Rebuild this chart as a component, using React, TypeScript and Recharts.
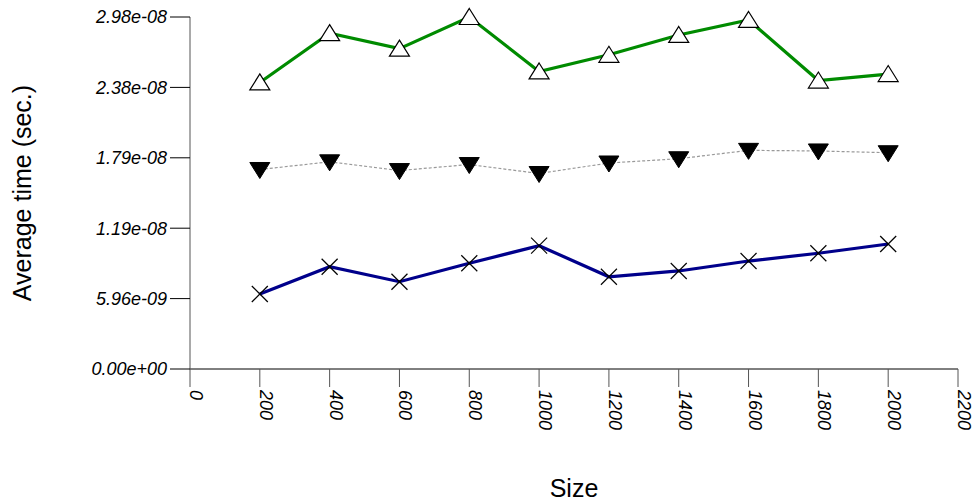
import React from "react";
import { LineChart, Line, XAxis, YAxis, Label } from "recharts";

const sizes = [200, 400, 600, 800, 1000, 1200, 1400, 1600, 1800, 2000];
const seriesGreen = [2.426e-8, 2.843e-8, 2.712e-8, 2.98e-8, 2.519e-8, 2.66e-8, 2.828e-8, 2.955e-8, 2.442e-8, 2.497e-8];
const seriesBlack = [1.689e-8, 1.754e-8, 1.68e-8, 1.731e-8, 1.655e-8, 1.744e-8, 1.78e-8, 1.851e-8, 1.846e-8, 1.831e-8];
const seriesBlue = [6.35e-9, 8.66e-9, 7.39e-9, 8.95e-9, 1.044e-8, 7.81e-9, 8.3e-9, 9.14e-9, 9.8e-9, 1.058e-8];
const xTicks = [0, 200, 400, 600, 800, 1000, 1200, 1400, 1600, 1800, 2000, 2200];
const yTicks = [0, 5.96e-9, 1.192e-8, 1.788e-8, 2.384e-8, 2.98e-8];
const yTickLabels = ["0.00e+00", "5.96e-09", "1.19e-08", "1.79e-08", "2.38e-08", "2.98e-08"];

const data = sizes.map((s, i) => ({
  size: s,
  green: seriesGreen[i],
  black: seriesBlack[i],
  blue: seriesBlue[i],
}));

const FONT = "'Liberation Sans', Arial, Helvetica, sans-serif";

const UpTri = (props: any) => {
  const { cx, cy, index } = props;
  if (cx == null || cy == null) return <g key={`u${index}`} />;
  return (
    <polygon
      key={`u${index}`}
      points={`${cx},${cy - 8.5} ${cx + 10},${cy + 7.5} ${cx - 10},${cy + 7.5}`}
      fill="#fff"
      stroke="#000"
      strokeWidth={1.2}
    />
  );
};

const DownTri = (props: any) => {
  const { cx, cy, index } = props;
  if (cx == null || cy == null) return <g key={`d${index}`} />;
  return (
    <polygon
      key={`d${index}`}
      points={`${cx - 10},${cy - 7} ${cx + 10},${cy - 7} ${cx},${cy + 9}`}
      fill="#000"
      stroke="#000"
      strokeWidth={1}
    />
  );
};

const Cross = (props: any) => {
  const { cx, cy, index } = props;
  if (cx == null || cy == null) return <g key={`c${index}`} />;
  const r = 8;
  return (
    <g key={`c${index}`} stroke="#000" strokeWidth={1.2}>
      <line x1={cx - r} y1={cy - r} x2={cx + r} y2={cy + r} />
      <line x1={cx - r} y1={cy + r} x2={cx + r} y2={cy - r} />
    </g>
  );
};

const XTick = (props: any) => {
  const { x, y, payload } = props;
  return (
    <text
      x={x}
      y={y}
      transform={`rotate(90, ${x}, ${y})`}
      textAnchor="start"
      fontStyle="italic"
      fontSize={18}
      fontFamily={FONT}
      fill="#000"
    >
      {payload.value}
    </text>
  );
};

export default function App() {
  return (
    <div style={{ position: "absolute", left: 0, top: 0, background: "#fff" }}>
      <LineChart
        width={977}
        height={502}
        data={data}
        margin={{ top: 17, right: 19, bottom: 0, left: 0 }}
      >
        <XAxis
          dataKey="size"
          type="number"
          domain={[0, 2200]}
          ticks={xTicks}
          interval={0}
          height={133}
          tickSize={18}
          tickMargin={3}
          tick={<XTick />}
          stroke="#000"
          tickLine={{ stroke: "#555" }}
          axisLine={{ stroke: "#000" }}
        >
          <Label
            content={(p: any) => {
              const vb = p.viewBox || { x: 190, y: 369, width: 768 };
              return (
                <text
                  x={vb.x + vb.width / 2}
                  y={vb.y + 128}
                  textAnchor="middle"
                  fontSize={25}
                  fontFamily={FONT}
                  fill="#000"
                >
                  Size
                </text>
              );
            }}
          />
        </XAxis>
        <YAxis
          type="number"
          domain={[0, 2.98e-8]}
          ticks={yTicks}
          interval={0}
          width={190}
          tickSize={20}
          tickMargin={3}
          tickFormatter={(v: number, i: number) => yTickLabels[i]}
          tick={{ fontSize: 18, fontStyle: "italic", fill: "#000", fontFamily: FONT }}
          tickLine={{ stroke: "#000" }}
          axisLine={{ stroke: "#555" }}
        >
          <Label
            content={(p: any) => {
              const vb = p.viewBox || { x: 0, y: 17, height: 352 };
              const cx = 31;
              const cy = vb.y + vb.height / 2;
              return (
                <text
                  x={cx}
                  y={cy}
                  transform={`rotate(-90, ${cx}, ${cy})`}
                  textAnchor="middle"
                  fontSize={25}
                  fontFamily={FONT}
                  fill="#000"
                >
                  Average time (sec.)
                </text>
              );
            }}
          />
        </YAxis>
        <Line
          dataKey="green"
          stroke="#008b00"
          strokeWidth={3.2}
          dot={(p: any) => <UpTri {...p} key={`u${p.index}`} />}
          activeDot={false}
          isAnimationActive={false}
        />
        <Line
          dataKey="black"
          stroke="#999"
          strokeWidth={1.2}
          strokeDasharray="3 2"
          dot={(p: any) => <DownTri {...p} key={`d${p.index}`} />}
          activeDot={false}
          isAnimationActive={false}
        />
        <Line
          dataKey="blue"
          stroke="#00008b"
          strokeWidth={3.2}
          dot={(p: any) => <Cross {...p} key={`c${p.index}`} />}
          activeDot={false}
          isAnimationActive={false}
        />
      </LineChart>
    </div>
  );
}
